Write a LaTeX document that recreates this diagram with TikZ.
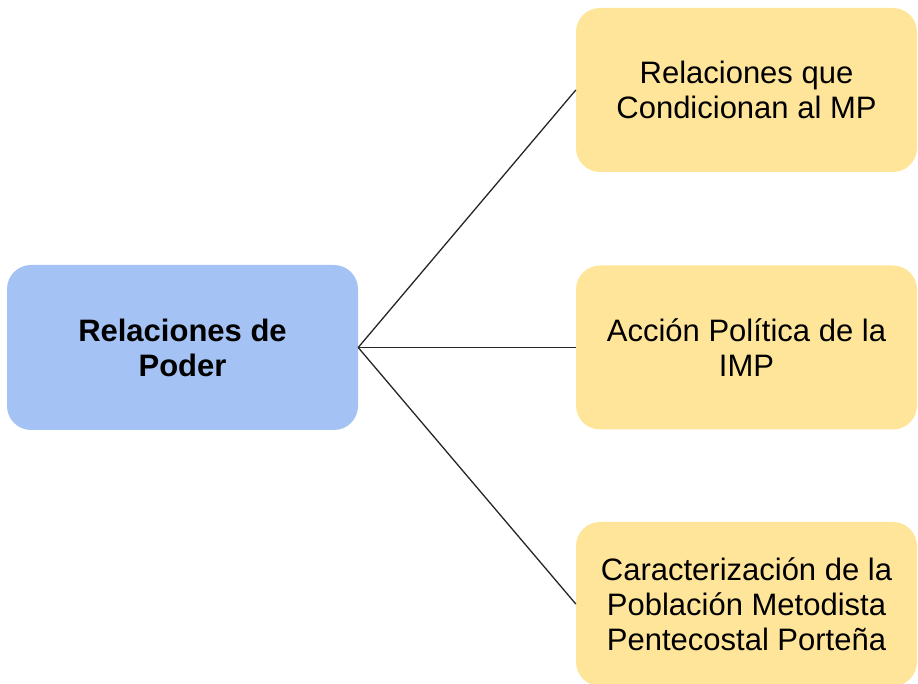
\documentclass[tikz,border=0pt]{standalone}
\usepackage{fontspec}
\setmainfont{Liberation Sans}
\definecolor{boxblue}{HTML}{A4C2F4}
\definecolor{boxyellow}{HTML}{FFE599}
\begin{document}
\begin{tikzpicture}[x=1pt,y=1pt,
  caja/.style={rounded corners=24pt,inner sep=0pt,align=center,font=\fontsize{31}{35}\selectfont},
  raiz/.style={caja,fill=boxblue,minimum width=351pt,minimum height=165pt},
  rama/.style={caja,fill=boxyellow,minimum width=341pt,minimum height=164pt},
  linea/.style={draw=black!85,line width=1.3pt}]
  \useasboundingbox (0,0) rectangle (918,683);
  \node[raiz] (poder) at (182.5,335.5) {\bfseries Relaciones de\\\bfseries Poder};
  \node[rama] (condicionan) at (746.5,593) {Relaciones que\\Condicionan al MP};
  \node[rama] (accion) at (746.5,335.5) {Acción Política de la\\IMP};
  \node[rama] (poblacion) at (746.5,79) {Caracterización de la\\Población Metodista\\Pentecostal Porteña};
  \draw[linea] (poder.east) -- (condicionan.west);
  \draw[linea] (poder.east) -- (accion.west);
  \draw[linea] (poder.east) -- (poblacion.west);
\end{tikzpicture}
\end{document}
